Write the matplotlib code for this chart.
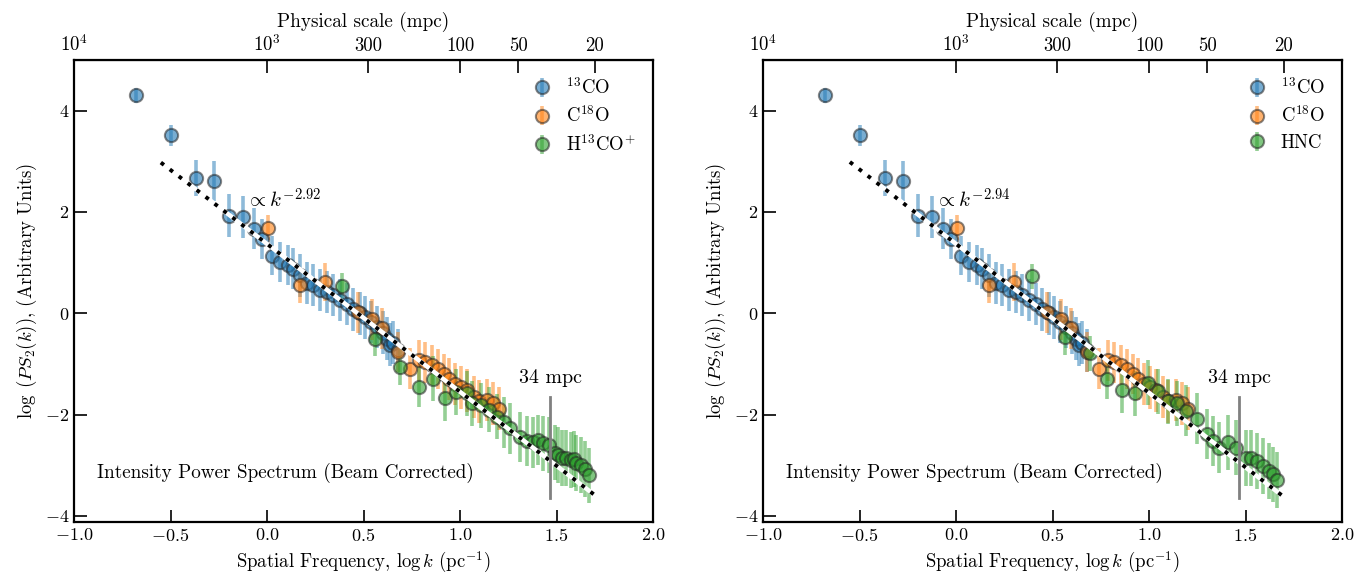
import numpy as np
import matplotlib
matplotlib.use("Agg")
import matplotlib.pyplot as plt
from matplotlib.colors import to_rgba

plt.rcParams['font.family'] = 'serif'
plt.rcParams['font.serif'] = ['cmr10', 'DejaVu Serif']
plt.rcParams['mathtext.fontset'] = 'cm'
plt.rcParams['axes.formatter.use_mathtext'] = True
plt.rcParams['font.size'] = 13

# ---------------- data ----------------
co13_x = [-0.68, -0.50, -0.37, -0.275, -0.197, -0.126, -0.067, -0.024, 0.024, 0.067,
          0.110, 0.137, 0.171, 0.206, 0.24, 0.275, 0.31, 0.34, 0.378, 0.413,
          0.447, 0.48, 0.51, 0.54, 0.568, 0.60, 0.62, 0.637, 0.655, 0.68]
co13_y = [4.30, 3.51, 2.67, 2.61, 1.93, 1.90, 1.67, 1.47, 1.14, 1.01,
          0.95, 0.88, 0.75, 0.60, 0.56, 0.46, 0.42, 0.36, 0.26, 0.18,
          0.08, 0.00, -0.08, -0.17, -0.27, -0.38, -0.50, -0.62, -0.58, -0.73]
co13_e = [0.15, 0.20, 0.36, 0.40, 0.42, 0.42, 0.40, 0.40, 0.38, 0.40,
          0.40, 0.40, 0.42, 0.42, 0.42, 0.42, 0.42, 0.42, 0.42, 0.42,
          0.42, 0.42, 0.42, 0.42, 0.42, 0.42, 0.42, 0.42, 0.42, 0.42]

c18o_x = [0.003, 0.171, 0.30, 0.473, 0.542, 0.594, 0.68, 0.74, 0.785, 0.82,
          0.853, 0.886, 0.915, 0.945, 0.975, 1.005, 1.035, 1.07, 1.10, 1.14,
          1.17, 1.20]
c18o_y = [1.69, 0.55, 0.62, 0.02, -0.12, -0.30, -0.76, -1.09, -0.93, -0.97,
          -1.02, -1.10, -1.20, -1.30, -1.40, -1.46, -1.52, -1.65, -1.74, -1.71,
          -1.78, -1.88]
c18o_e = [0.25, 0.35, 0.38, 0.40, 0.40, 0.40, 0.40, 0.40, 0.40, 0.40,
          0.40, 0.40, 0.40, 0.42, 0.42, 0.42, 0.42, 0.42, 0.42, 0.42,
          0.42, 0.42]

h13co_x = [0.39, 0.56, 0.69, 0.785, 0.858, 0.92, 0.98, 1.035, 1.06, 1.11,
           1.15, 1.19, 1.23, 1.26, 1.31, 1.345, 1.38, 1.405, 1.43, 1.46,
           1.49, 1.51, 1.53, 1.55, 1.575, 1.59, 1.60, 1.625, 1.65, 1.67]
h13co_y = [0.54, -0.50, -1.06, -1.45, -1.29, -1.68, -1.55, -1.58, -1.78, -1.82,
           -1.90, -2.04, -2.15, -2.27, -2.44, -2.52, -2.55, -2.50, -2.57, -2.60,
           -2.75, -2.80, -2.85, -2.86, -2.90, -2.88, -2.95, -3.00, -3.08, -3.20]
h13co_e = [0.25, 0.35, 0.35, 0.40, 0.45, 0.45, 0.45, 0.45, 0.45, 0.45,
           0.45, 0.45, 0.50, 0.50, 0.50, 0.50, 0.50, 0.50, 0.55, 0.55,
           0.55, 0.55, 0.55, 0.55, 0.55, 0.55, 0.55, 0.55, 0.55, 0.55]

hnc_x = [0.392, 0.565, 0.694, 0.78, 0.86, 0.93, 0.993, 1.046, 1.10, 1.143,
         1.19, 1.25, 1.30, 1.33, 1.365, 1.41, 1.45, 1.50, 1.53, 1.56,
         1.59, 1.62, 1.64, 1.665]
hnc_y = [0.73, -0.47, -0.79, -1.29, -1.51, -1.58, -1.37, -1.54, -1.74, -1.78,
         -1.92, -2.08, -2.38, -2.52, -2.65, -2.55, -2.65, -2.86, -2.86, -2.92,
         -3.02, -3.12, -3.18, -3.29]
hnc_e = [0.25, 0.35, 0.35, 0.40, 0.45, 0.45, 0.45, 0.45, 0.45, 0.45,
         0.50, 0.50, 0.50, 0.50, 0.50, 0.55, 0.55, 0.55, 0.55, 0.55,
         0.55, 0.55, 0.55, 0.55]

slopes = [-2.92, -2.94]
intercepts = [1.37, 1.37]
fit_range = (-0.55, 1.71)
beam_mpc = 34
top_tick_mpc = [1e4, 1e3, 300, 100, 50, 20]
top_tick_labels = [r'$10^4$', r'$10^3$', '300', '100', '50', '20']

colors = ['#1f77b4', '#ff7f0e', '#2ca02c']

fig = plt.figure(figsize=(13.63, 5.73), dpi=100)
axL = fig.add_axes([74/1363, 51/573, 579/1363, 462/573])
axR = fig.add_axes([763/1363, 51/573, 579/1363, 462/573])

panels = [
    (axL, [(co13_x, co13_y, co13_e, r'$^{13}$CO'),
           (c18o_x, c18o_y, c18o_e, r'C$^{18}$O'),
           (h13co_x, h13co_y, h13co_e, r'H$^{13}$CO$^{+}$')], 0),
    (axR, [(co13_x, co13_y, co13_e, r'$^{13}$CO'),
           (c18o_x, c18o_y, c18o_e, r'C$^{18}$O'),
           (hnc_x, hnc_y, hnc_e, 'HNC')], 1),
]

for ax, series, i in panels:
    for (x, y, e, lab), c in zip(series, colors):
        ax.errorbar(x, y, yerr=e, fmt='o', ms=9.5,
                    mfc=to_rgba(c, 0.6), mec=(0.15, 0.15, 0.15, 0.55), mew=1.5,
                    ecolor=to_rgba(c, 0.5), elinewidth=2.6, capsize=0,
                    label=lab, zorder=2)
    xf = np.linspace(fit_range[0], fit_range[1], 200)
    yf = intercepts[i] + slopes[i] * xf
    ax.plot(xf, yf, color='white', lw=3.2, zorder=3)
    ax.plot(xf, yf, color='black', lw=2.8, ls=(0, (1, 1.9)), zorder=4)
    ax.text(-0.11, 2.25, r'$\propto k^{%.2f}$' % slopes[i], fontsize=15,
            ha='left', va='center', zorder=5)
    xb = np.log10(1000 / beam_mpc)
    ax.plot([xb, xb], [-1.65, -3.65], color='gray', lw=2, zorder=5)
    ax.text(xb, -1.28, '%d mpc' % beam_mpc, ha='center', va='center', fontsize=14.3)
    ax.text(-0.88, -3.15, 'Intensity Power Spectrum (Beam Corrected)',
            ha='left', va='center', fontsize=13.8)

    ax.set_xlim(-1.0, 2.0)
    ax.set_ylim(-4.12, 5.0)
    ax.set_xticks([-1.0, -0.5, 0.0, 0.5, 1.0, 1.5, 2.0])
    ax.set_yticks([-4, -2, 0, 2, 4])
    ax.tick_params(direction='in', length=9, width=1.2, labelsize=13,
                   top=False, right=False)
    for s in ax.spines.values():
        s.set_linewidth(1.6)
    ax.set_xlabel(r'Spatial Frequency, $\log k$ (pc$^{-1}$)', fontsize=13.5)
    ax.set_ylabel(r'$\log\;(PS_2(k))$, (Arbitrary Units)', fontsize=13.5)

    sec = ax.secondary_xaxis('top', functions=(lambda v: 3 - v, lambda p: 3 - p))
    sec.set_xticks([np.log10(m) for m in top_tick_mpc])
    sec.set_xticklabels(top_tick_labels)
    sec.tick_params(direction='in', length=9, width=1.2, labelsize=13.5)
    sec.set_xlabel('Physical scale (mpc)', fontsize=13.8, labelpad=5)

    leg = ax.legend(loc='upper right', frameon=False, fontsize=13.5,
                    handletextpad=0.3, borderaxespad=0.5, labelspacing=0.4)

fig.savefig('out.png', dpi=100)
